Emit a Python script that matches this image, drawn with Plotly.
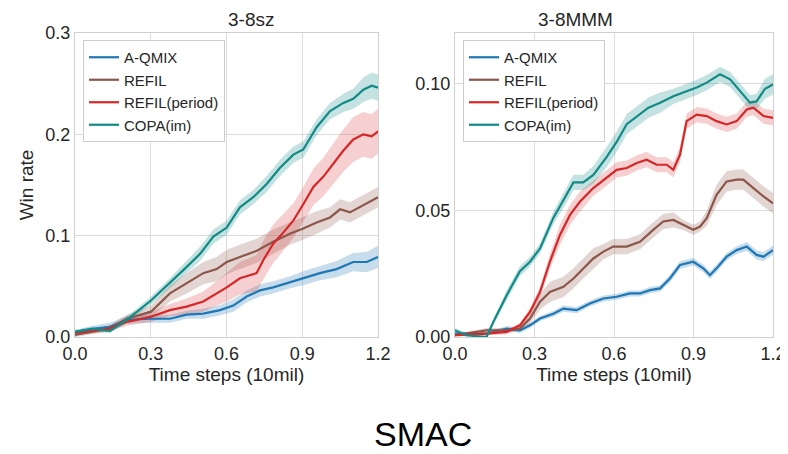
import plotly.graph_objects as go

series_names = ["A-QMIX", "REFIL", "REFIL(period)", "COPA(im)"]
series_colors = ["#1f77b4", "#8c564b", "#d62728", "#128a86"]
band_colors = ["rgba(31,119,180,0.25)", "rgba(140,86,75,0.25)", "rgba(214,39,40,0.22)", "rgba(18,138,134,0.25)"]

x_ticks = [0.0, 0.3, 0.6, 0.9, 1.2]
panel_titles = ["3-8sz", "3-8MMM"]

# ---------------- 3-8sz ----------------
sz_aqmix_x = [0, 0.07, 0.139, 0.205, 0.301, 0.376, 0.442, 0.508, 0.574, 0.627, 0.680, 0.733, 0.785, 0.851, 0.904, 0.970, 1.036, 1.102, 1.155, 1.2]
sz_aqmix_y = [0.005, 0.008, 0.010, 0.017, 0.018, 0.018, 0.022, 0.023, 0.0265, 0.031, 0.040, 0.046, 0.049, 0.054, 0.058, 0.063, 0.067, 0.074, 0.074, 0.079]
sz_aqmix_sd = [0.002, 0.003, 0.004, 0.004, 0.004, 0.004, 0.004, 0.005, 0.005, 0.006, 0.006, 0.006, 0.006, 0.006, 0.007, 0.007, 0.008, 0.009, 0.010, 0.011]

sz_refil_x = [0, 0.07, 0.139, 0.205, 0.301, 0.376, 0.442, 0.508, 0.561, 0.601, 0.653, 0.719, 0.785, 0.851, 0.904, 0.957, 1.010, 1.050, 1.089, 1.142, 1.2]
sz_refil_y = [0.002, 0.005, 0.0085, 0.018, 0.025, 0.043, 0.053, 0.063, 0.067, 0.074, 0.079, 0.085, 0.094, 0.102, 0.107, 0.113, 0.118, 0.126, 0.123, 0.130, 0.138]
sz_refil_sd = [0.002, 0.002, 0.003, 0.004, 0.006, 0.008, 0.010, 0.011, 0.012, 0.012, 0.012, 0.012, 0.012, 0.011, 0.011, 0.011, 0.010, 0.010, 0.010, 0.010, 0.010]

sz_period_x = [0, 0.07, 0.139, 0.205, 0.301, 0.376, 0.442, 0.508, 0.561, 0.601, 0.653, 0.719, 0.746, 0.785, 0.825, 0.865, 0.904, 0.944, 0.983, 1.023, 1.063, 1.102, 1.142, 1.175, 1.2]
sz_period_y = [0.004, 0.006, 0.0085, 0.015, 0.020, 0.0265, 0.030, 0.035, 0.043, 0.049, 0.058, 0.063, 0.076, 0.092, 0.103, 0.115, 0.131, 0.148, 0.158, 0.171, 0.184, 0.195, 0.200, 0.198, 0.203]
sz_period_sd = [0.002, 0.002, 0.003, 0.004, 0.005, 0.006, 0.008, 0.010, 0.012, 0.014, 0.016, 0.018, 0.019, 0.019, 0.018, 0.017, 0.017, 0.018, 0.019, 0.020, 0.021, 0.022, 0.022, 0.022, 0.022]

sz_copa_x = [0, 0.07, 0.139, 0.205, 0.301, 0.376, 0.429, 0.495, 0.548, 0.601, 0.653, 0.706, 0.759, 0.812, 0.865, 0.904, 0.957, 1.010, 1.063, 1.102, 1.142, 1.175, 1.2]
sz_copa_y = [0.005, 0.008, 0.006, 0.017, 0.036, 0.053, 0.066, 0.082, 0.099, 0.108, 0.128, 0.138, 0.151, 0.167, 0.180, 0.185, 0.207, 0.223, 0.231, 0.235, 0.244, 0.248, 0.246]
sz_copa_sd = [0.002, 0.002, 0.002, 0.003, 0.004, 0.005, 0.006, 0.007, 0.007, 0.007, 0.007, 0.007, 0.008, 0.008, 0.008, 0.008, 0.008, 0.008, 0.009, 0.010, 0.012, 0.013, 0.013]

# ---------------- 3-8MMM ----------------
mmm_aqmix_x = [0, 0.119, 0.195, 0.245, 0.283, 0.321, 0.371, 0.409, 0.459, 0.509, 0.560, 0.610, 0.660, 0.698, 0.736, 0.774, 0.811, 0.849, 0.899, 0.937, 0.962, 0.987, 1.025, 1.063, 1.101, 1.138, 1.164, 1.2]
mmm_aqmix_y = [0.0013, 0.0013, 0.0033, 0.0026, 0.0046, 0.0073, 0.0092, 0.0112, 0.0106, 0.0132, 0.0152, 0.0159, 0.0172, 0.0172, 0.0185, 0.0192, 0.0231, 0.0284, 0.0297, 0.0271, 0.0244, 0.0271, 0.0317, 0.0343, 0.0357, 0.0324, 0.0317, 0.0343]
mmm_aqmix_sd = [0.0005, 0.0005, 0.001, 0.001, 0.001, 0.001, 0.0012, 0.0012, 0.0012, 0.0012, 0.0012, 0.0012, 0.0012, 0.0012, 0.0012, 0.0012, 0.0015, 0.0015, 0.0015, 0.0015, 0.0015, 0.0015, 0.0015, 0.0015, 0.0018, 0.0018, 0.0018, 0.0018]

mmm_refil_x = [0, 0.119, 0.195, 0.245, 0.283, 0.321, 0.358, 0.409, 0.447, 0.484, 0.522, 0.560, 0.597, 0.648, 0.698, 0.748, 0.786, 0.824, 0.862, 0.899, 0.925, 0.950, 0.987, 1.025, 1.063, 1.088, 1.126, 1.164, 1.2]
mmm_refil_y = [0.0007, 0.0026, 0.0026, 0.0033, 0.0073, 0.0139, 0.0178, 0.0198, 0.0231, 0.0271, 0.031, 0.0337, 0.0357, 0.0357, 0.0376, 0.0423, 0.0456, 0.0462, 0.0442, 0.0423, 0.0436, 0.0469, 0.0561, 0.0614, 0.0621, 0.0621, 0.0588, 0.0555, 0.0528]
mmm_refil_sd = [0.0005, 0.001, 0.001, 0.001, 0.002, 0.003, 0.004, 0.004, 0.004, 0.004, 0.004, 0.003, 0.003, 0.003, 0.003, 0.003, 0.003, 0.003, 0.002, 0.002, 0.002, 0.003, 0.004, 0.004, 0.004, 0.004, 0.004, 0.004, 0.004]

mmm_period_x = [0, 0.119, 0.195, 0.245, 0.283, 0.321, 0.358, 0.396, 0.434, 0.472, 0.522, 0.572, 0.610, 0.648, 0.686, 0.723, 0.761, 0.799, 0.824, 0.849, 0.874, 0.912, 0.950, 0.987, 1.025, 1.063, 1.101, 1.126, 1.164, 1.2]
mmm_period_y = [0.0007, 0.0013, 0.002, 0.0046, 0.0099, 0.0178, 0.0297, 0.0403, 0.0482, 0.0535, 0.0588, 0.0627, 0.066, 0.0667, 0.0687, 0.070, 0.068, 0.068, 0.066, 0.072, 0.0852, 0.0878, 0.0872, 0.0852, 0.0839, 0.0852, 0.0898, 0.0905, 0.0872, 0.0865]
mmm_period_sd = [0.0005, 0.0005, 0.001, 0.001, 0.0015, 0.002, 0.003, 0.004, 0.004, 0.004, 0.003, 0.003, 0.003, 0.003, 0.003, 0.003, 0.003, 0.003, 0.003, 0.003, 0.003, 0.003, 0.003, 0.003, 0.003, 0.003, 0.003, 0.003, 0.003, 0.003]

mmm_copa_x = [0, 0.044, 0.119, 0.145, 0.195, 0.245, 0.283, 0.321, 0.371, 0.421, 0.447, 0.484, 0.522, 0.572, 0.610, 0.648, 0.698, 0.730, 0.774, 0.824, 0.874, 0.912, 0.950, 1.0, 1.038, 1.075, 1.113, 1.138, 1.170, 1.2]
mmm_copa_y = [0.0026, 0.0007, 0.0, 0.006, 0.0165, 0.026, 0.0297, 0.035, 0.047, 0.056, 0.061, 0.061, 0.064, 0.071, 0.077, 0.084, 0.088, 0.0905, 0.0925, 0.095, 0.097, 0.0985, 0.1004, 0.1037, 0.1017, 0.097, 0.0925, 0.093, 0.098, 0.0997]
mmm_copa_sd = [0.001, 0.001, 0.0005, 0.001, 0.002, 0.002, 0.002, 0.002, 0.0025, 0.003, 0.003, 0.003, 0.0035, 0.004, 0.004, 0.004, 0.004, 0.004, 0.004, 0.003, 0.003, 0.003, 0.003, 0.003, 0.003, 0.003, 0.003, 0.003, 0.004, 0.004]

panels = [
    [(sz_aqmix_x, sz_aqmix_y, sz_aqmix_sd), (sz_refil_x, sz_refil_y, sz_refil_sd),
     (sz_period_x, sz_period_y, sz_period_sd), (sz_copa_x, sz_copa_y, sz_copa_sd)],
    [(mmm_aqmix_x, mmm_aqmix_y, mmm_aqmix_sd), (mmm_refil_x, mmm_refil_y, mmm_refil_sd),
     (mmm_period_x, mmm_period_y, mmm_period_sd), (mmm_copa_x, mmm_copa_y, mmm_copa_sd)],
]

FONT = "Liberation Sans, Arial, sans-serif"
TXT = "#262626"

fig = go.Figure()
for p, data in enumerate(panels):
    xa = "x" if p == 0 else "x2"
    ya = "y" if p == 0 else "y2"
    lg = "legend" if p == 0 else "legend2"
    for i, (xs, ys, sd) in enumerate(data):
        upper = [y + s for y, s in zip(ys, sd)]
        lower = [max(0.0, y - s) for y, s in zip(ys, sd)]
        fig.add_trace(go.Scatter(x=xs + xs[::-1], y=upper + lower[::-1], fill="toself",
                                 fillcolor=band_colors[i], line=dict(width=0), mode="lines",
                                 hoverinfo="skip", showlegend=False, xaxis=xa, yaxis=ya))
    for i, (xs, ys, sd) in enumerate(data):
        fig.add_trace(go.Scatter(x=xs, y=ys, mode="lines", name=series_names[i],
                                 line=dict(color=series_colors[i], width=2.2),
                                 xaxis=xa, yaxis=ya, legend=lg, showlegend=True))

axis_common = dict(showgrid=True, gridcolor="#dcdcdc", gridwidth=1, showline=True,
                   linecolor="#d0d0d0", linewidth=1, mirror=True, zeroline=False, automargin=False,
                   ticks="", tickfont=dict(family=FONT, size=18, color=TXT))

# The page body adds an 8px offset; the figure is sized so it ends at the window edge.
OFF = 8
W, H = 788 - OFF, 454 - OFF
# plot area in window pixels: left 75, right 773, top 33, bottom 337
L, T = 75 - OFF, 33 - OFF
R, B = W - (773 - OFF), H - (337 - OFF)
PW, PH = W - L - R, H - T - B


def px_x(px):
    return (px - OFF - L) / PW


def px_y(py):
    return (H - B - (py - OFF)) / PH


leg_common = dict(xanchor="left", yanchor="top", bgcolor="white", bordercolor="#cccccc", borderwidth=1,
                  font=dict(family=FONT, size=15, color=TXT), tracegroupgap=0, itemwidth=30)

fig.update_layout(
    width=W, height=H, margin=dict(l=L, r=R, t=T, b=B),
    paper_bgcolor="white", plot_bgcolor="white",
    font=dict(family=FONT, color=TXT),
    xaxis=dict(domain=[0, px_x(378)], range=[0, 1.2], tickvals=x_ticks, tickformat=".1f",
               title=dict(text="Time steps (10mil)", font=dict(family=FONT, size=19, color=TXT), standoff=2),
               **axis_common),
    yaxis=dict(domain=[0, 1], range=[0, 0.3], tickvals=[0, 0.1, 0.2, 0.3], tickformat=".1f",
               title=dict(text="Win rate", font=dict(family=FONT, size=19, color=TXT), standoff=6),
               **axis_common),
    xaxis2=dict(domain=[px_x(455), 1], range=[0, 1.2], tickvals=x_ticks, tickformat=".1f", anchor="y2",
                title=dict(text="Time steps (10mil)", font=dict(family=FONT, size=19, color=TXT), standoff=2),
                **axis_common),
    yaxis2=dict(domain=[0, 1], range=[0, 0.12], tickvals=[0, 0.05, 0.10], tickformat=".2f",
                anchor="x2", **axis_common),
    legend=dict(x=px_x(83), y=px_y(40), **leg_common),
    legend2=dict(x=px_x(463), y=px_y(40), **leg_common),
    annotations=[
        dict(text=panel_titles[0], x=px_x((75 + 378) / 2), y=px_y(OFF), xref="paper", yref="paper",
             showarrow=False, font=dict(family=FONT, size=19, color=TXT), yanchor="top", borderpad=0),
        dict(text=panel_titles[1], x=px_x((455 + 773) / 2), y=px_y(OFF), xref="paper", yref="paper",
             showarrow=False, font=dict(family=FONT, size=19, color=TXT), yanchor="top", borderpad=0),
        dict(text="SMAC", x=px_x(423), y=px_y(454), xref="paper", yref="paper", showarrow=False,
             font=dict(family=FONT, size=34, color="black"), yanchor="bottom", borderpad=0),
    ],
)

fig.write_html("out.html")
